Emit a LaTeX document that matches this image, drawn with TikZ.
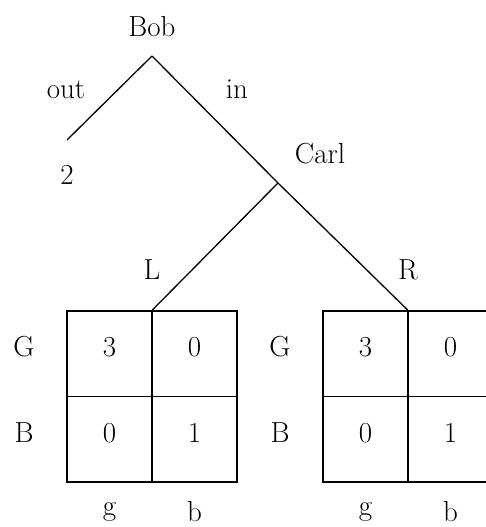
\documentclass[tikz,border=0pt]{standalone}
\begin{document}
\begin{tikzpicture}[x=1pt,y=-1pt,
  lbl/.style={font=\fontsize{29}{34}\selectfont, inner sep=0pt, anchor=base},
  edge/.style={line width=1.3pt},
  mbox/.style={draw, line width=1.3pt, minimum width=170pt, minimum height=171pt, inner sep=0pt}]
\useasboundingbox (0,0) rectangle (486,527);
% tree points
\coordinate (bob) at (152,56);
\coordinate (outend) at (67,140);
\coordinate (carl) at (278,183);
% matrices
\node[mbox] (M1) at (152,396.5) {};
\node[mbox] (M2) at (408,396.5) {};
\draw[edge] (M1.north) -- (M1.south);
\draw[edge] (M1.west) -- (M1.east);
\draw[edge] (M2.north) -- (M2.south);
\draw[edge] (M2.west) -- (M2.east);
% branches
\draw[edge] (bob) -- (outend);
\draw[edge] (bob) -- (carl);
\draw[edge] (carl) -- (M2.north);
\draw[edge] (carl) -- (M1.north);
% labels
\node[lbl] (boblab) at (152,37) {Bob};
\node[lbl] (outlab) at (66,98) {out};
\node[lbl] (inlab) at (237,98) {in};
\node[lbl] (two) at (67,184) {2};
\node[lbl] (carllab) at (320,163) {Carl};
\node[lbl] (Llab) at (152,279) {L};
\node[lbl] (Rlab) at (408,279) {R};
% left matrix labels
\node[lbl] (G1) at (24,356) {G};
\node[lbl] (B1) at (24,442) {B};
\node[lbl] (a11) at (109.5,356) {3};
\node[lbl] (a12) at (194.5,356) {0};
\node[lbl] (a21) at (109.5,442) {0};
\node[lbl] (a22) at (194.5,442) {1};
\node[lbl, anchor=center] (g1) at (109.5,512) {g};
\node[lbl, anchor=center] (b1) at (194.5,512) {b};
% right matrix labels
\node[lbl] (G2) at (280,356) {G};
\node[lbl] (B2) at (280,442) {B};
\node[lbl] (c11) at (365.5,356) {3};
\node[lbl] (c12) at (450.5,356) {0};
\node[lbl] (c21) at (365.5,442) {0};
\node[lbl] (c22) at (450.5,442) {1};
\node[lbl, anchor=center] (g2) at (365.5,512) {g};
\node[lbl, anchor=center] (b2) at (450.5,512) {b};
\end{tikzpicture}
\end{document}
